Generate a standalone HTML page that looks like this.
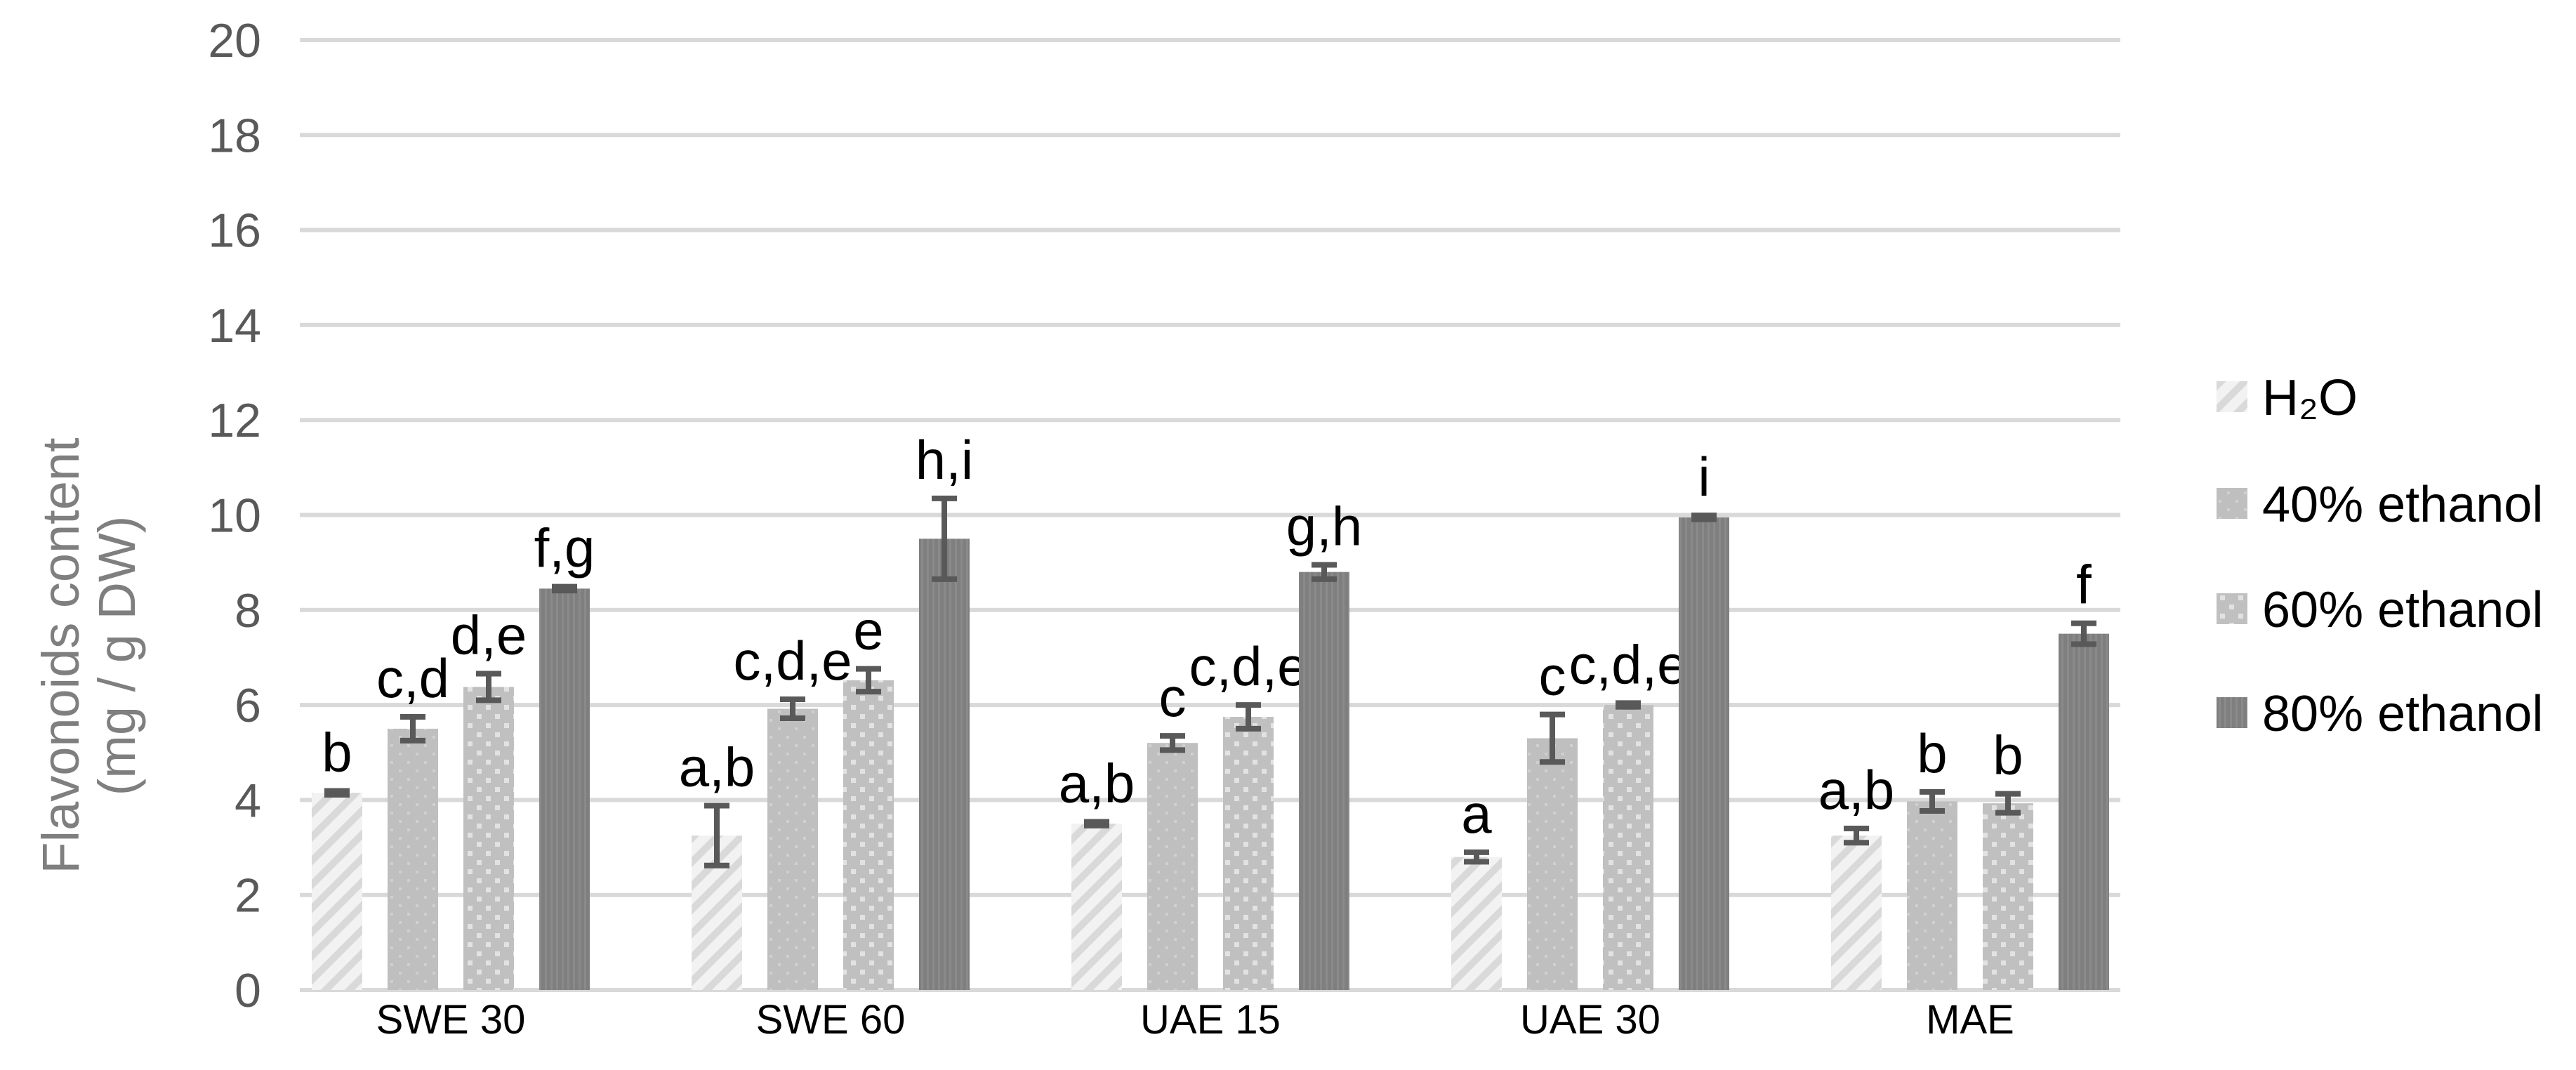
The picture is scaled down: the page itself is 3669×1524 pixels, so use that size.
<!DOCTYPE html>
<html><head><meta charset="utf-8"><style>
html,body{margin:0;padding:0;background:#fff;}
svg{display:block;font-family:"Liberation Sans",sans-serif;}
</style></head><body>
<svg id="chart" width="3669" height="1524" viewBox="0 0 3669 1524">
<defs>
<pattern id="pH2O" width="24" height="24" patternUnits="userSpaceOnUse" patternTransform="rotate(45)">
<rect width="24" height="24" fill="#f2f2f2"/><rect width="10" height="24" fill="#d9d9d9"/></pattern>
<pattern id="p40" width="24" height="24" patternUnits="userSpaceOnUse">
<rect width="24" height="24" fill="#bfbfbf"/><rect x="4" y="4" width="4" height="4" fill="#d0d0d0"/><rect x="16" y="16" width="4" height="4" fill="#d0d0d0"/></pattern>
<pattern id="p60" width="26" height="26" patternUnits="userSpaceOnUse">
<rect width="26" height="26" fill="#c0c0c0"/><rect x="3" y="3" width="7" height="7" fill="#e2e2e2"/><rect x="16" y="16" width="7" height="7" fill="#e2e2e2"/></pattern>
<pattern id="p80" width="8" height="8" patternUnits="userSpaceOnUse">
<rect width="8" height="8" fill="#7f7f7f"/><rect x="0" width="3" height="8" fill="#8a8a8a"/></pattern>
</defs>
<g id="grid"></g>
<g id="yticks"></g>
<g id="bars"></g>
<g id="xlabels"></g>
<g fill="#7f7f7f" font-size="74">
<text transform="translate(112,934) rotate(-90)" text-anchor="middle">Flavonoids content</text>
<text transform="translate(192,934) rotate(-90)" text-anchor="middle">(mg / g DW)</text>
</g>
<g id="legend"></g>
</svg>
<script>
const categories = ["SWE 30","SWE 60","UAE 15","UAE 30","MAE"];
const seriesNames = ["H\u2082O","40% ethanol","60% ethanol","80% ethanol"];
const valH2O = [4.15, 3.25, 3.5, 2.8, 3.25];
const val40 = [5.5, 5.92, 5.2, 5.3, 3.97];
const val60 = [6.38, 6.52, 5.75, 6.0, 3.93];
const val80 = [8.45, 9.5, 8.8, 9.95, 7.5];
const errH2O = [0.04, 0.63, 0.04, 0.1, 0.15];
const err40 = [0.25, 0.2, 0.15, 0.5, 0.2];
const err60 = [0.28, 0.24, 0.25, 0.04, 0.2];
const err80 = [0.04, 0.85, 0.15, 0.04, 0.22];
const letH2O = ["b","a,b","a,b","a","a,b"];
const let40 = ["c,d","c,d,e","c","c","b"];
const let60 = ["d,e","e","c,d,e","c,d,e","b"];
const let80 = ["f,g","h,i","g,h","i","f"];
const yTicks = [0,2,4,6,8,10,12,14,16,18,20];

const values=[valH2O,val40,val60,val80], errs=[errH2O,err40,err60,err80], lets=[letH2O,let40,let60,let80];
const fills=["url(#pH2O)","url(#p40)","url(#p60)","url(#p80)"];
const NS="http://www.w3.org/2000/svg";
const y=v=>1410-67.65*v;
const catX=i=>642+541*i;
const barX=(i,s)=>catX(i)-198+108*s;
function mk(tag,attrs,parent,txt){const e=document.createElementNS(NS,tag);for(const k in attrs)e.setAttribute(k,attrs[k]);if(txt!==undefined)e.textContent=txt;parent.appendChild(e);return e;}
const g=document.getElementById('grid'),yt=document.getElementById('yticks'),b=document.getElementById('bars'),xl=document.getElementById('xlabels'),lg=document.getElementById('legend');
yTicks.forEach(t=>{
 const l=mk('line',{x1:427,x2:3020,y1:y(t),y2:y(t),stroke:'#d9d9d9','stroke-width':6},g);
 
 
 const tx=mk('text',{x:372,y:y(t)+24,'text-anchor':'end','font-size':68,fill:'#595959'},yt,String(t));
 
 
});
categories.forEach((c,i)=>{
 const t=mk('text',{x:catX(i),y:1472,'text-anchor':'middle','font-size':58,fill:'#000'},xl,c);
 
 
 for(let s=0;s<4;s++){
  const v=values[s][i],e=errs[s][i],x0=barX(i,s);
  const r=mk('rect',{x:x0,y:y(v),width:72,height:1410-y(v),fill:fills[s]},b);
  
  
  const cx=x0+36;
  const eb=mk('path',{d:`M${cx-18},${y(v+e)}H${cx+18}M${cx},${y(v+e)}V${y(v-e)}M${cx-18},${y(v-e)}H${cx+18}`,stroke:'#595959','stroke-width':8,fill:'none'},b);
  
  
  const lt=mk('text',{x:cx,y:y(v+e)-28,'text-anchor':'middle','font-size':78,fill:'#000'},b,lets[s][i]);
  
  
 }
});
const legendY=[565,717,867,1015];
seriesNames.forEach((n,s)=>{
 const yy=legendY[s];
 const r=mk('rect',{x:3157,y:yy-22,width:44,height:44,fill:fills[s]},lg);
 
 
 const t=mk('text',{x:3222,y:yy+26,'font-size':72,fill:'#000'},lg,n);
 
 
});
</script>
</body></html>
